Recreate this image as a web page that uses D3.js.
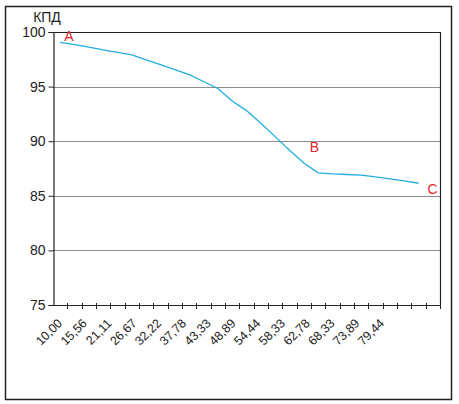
<!DOCTYPE html>
<html>
<head>
<meta charset="utf-8">
<script src="https://cdn.jsdelivr.net/npm/d3@7"></script>
<style>
  html, body { margin: 0; padding: 0; background: #fff; }
  svg { display: block; font-family: "Liberation Sans", Arial, sans-serif; }
</style>
</head>
<body>
<svg id="chart" width="459" height="404"></svg>
<script>
// ---- data ----
const categories = [10.00, 12.78, 15.56, 18.33, 21.11, 23.89, 26.67, 29.44, 32.22, 35.00,
  37.78, 40.56, 43.33, 46.11, 48.89, 51.67, 54.44, 57.22, 60.00, 62.78,
  65.56, 68.33, 71.11, 73.89, 76.67, 79.44, 82.22];
const efficiency = [99.05, 98.85, 98.61, 98.37, 98.14, 97.90, 97.45, 97.01, 96.56, 96.10,
  95.47, 94.83, 93.68, 92.80, 91.65, 90.42, 89.18, 88.00, 87.10, 87.00,
  86.95, 86.90, 86.74, 86.55, 86.36, 86.15];
const xTickLabels = ["10,00", "15,56", "21,11", "26,67", "32,22", "37,78", "43,33",
  "48,89", "54,44", "58,33", "62,78", "68,33", "73,89", "79,44"];
const yTicks = [75, 80, 85, 90, 95, 100];
const pointLabels = [
  { text: "A", index: 0, dx: 4, dy: -1 },
  { text: "B", index: 17, dx: 6, dy: -11 },
  { text: "C", index: 25, dx: 9, dy: 11 }
];
const yTitle = "КПД";

// ---- layout ----
const svg = d3.select("#chart");
const plot = { left: 53, top: 32, right: 440, bottom: 305 };

svg.append("rect")
  .attr("x", 5.5).attr("y", 6.5).attr("width", 446).attr("height", 393)
  .attr("fill", "none").attr("stroke", "#222").attr("stroke-width", 1.5);

const x = d3.scaleBand()
  .domain(categories.map((d, i) => i))
  .range([plot.left, plot.right])
  .padding(0);

const y = d3.scaleLinear().domain([75, 100]).range([plot.bottom, plot.top]);

const xLab = d3.scalePoint()
  .domain(xTickLabels)
  .range([plot.left + 10, plot.left + 332]);

// gridlines
svg.append("g").selectAll("line")
  .data(yTicks.filter(t => t > 75 && t < 100))
  .join("line")
  .attr("x1", plot.left).attr("x2", plot.right)
  .attr("y1", d => Math.round(y(d)) + 0.5).attr("y2", d => Math.round(y(d)) + 0.5)
  .attr("stroke", "#8c8c8c").attr("stroke-width", 1);

// plot frame top/right
svg.append("path")
  .attr("d", `M${plot.left},${plot.top + 0.5}H${plot.right + 0.5}V${plot.bottom}`)
  .attr("fill", "none").attr("stroke", "#222").attr("stroke-width", 1.2);

// y axis
const yAxis = svg.append("g")
  .attr("transform", `translate(${plot.left + 0.5},0)`)
  .call(d3.axisLeft(y).tickValues(yTicks).tickSize(5).tickPadding(3)
    .tickFormat(d3.format("d")));
yAxis.select(".domain").attr("stroke", "#222").attr("stroke-width", 1.2);
yAxis.selectAll(".tick line").attr("stroke", "#222");
yAxis.selectAll(".tick text")
  .attr("font-size", 14).attr("fill", "#222")
  .attr("font-family", "Liberation Sans, Arial, sans-serif");

// x axis (category boundaries)
const bounds = d3.range(categories.length + 1);
const xb = d3.scaleLinear().domain([0, categories.length]).range([plot.left, plot.right]);
svg.append("line")
  .attr("x1", plot.left).attr("x2", plot.right + 0.5)
  .attr("y1", plot.bottom + 0.5).attr("y2", plot.bottom + 0.5)
  .attr("stroke", "#222").attr("stroke-width", 1.2);
svg.append("g").selectAll("line")
  .data(bounds.slice(1))
  .join("line")
  .attr("x1", d => Math.round(xb(d)) + 0.5).attr("x2", d => Math.round(xb(d)) + 0.5)
  .attr("y1", plot.bottom - 2).attr("y2", plot.bottom + 4)
  .attr("stroke", "#222").attr("stroke-width", 1);

// x tick labels
svg.append("g").selectAll("text")
  .data(xTickLabels)
  .join("text")
  .attr("transform", d => `translate(${xLab(d)},${plot.bottom + 19}) rotate(-45)`)
  .attr("text-anchor", "end")
  .attr("font-size", 12.5)
  .attr("fill", "#222")
  .text(d => d);

// y title
svg.append("text")
  .attr("x", 47).attr("y", 22)
  .attr("text-anchor", "middle")
  .attr("font-size", 14).attr("fill", "#222")
  .text(yTitle);

// line
const line = d3.line()
  .x((d, i) => x(i) + x.bandwidth() / 2)
  .y(d => y(d));
svg.append("path")
  .datum(efficiency)
  .attr("d", line)
  .attr("fill", "none")
  .attr("stroke", "#22ade0")
  .attr("stroke-width", 1.3);

// point labels
svg.append("g").selectAll("text")
  .data(pointLabels)
  .join("text")
  .attr("x", d => x(d.index) + x.bandwidth() / 2 + d.dx)
  .attr("y", d => y(efficiency[d.index]) + d.dy)
  .attr("font-size", 14)
  .attr("fill", "#e0242c")
  .text(d => d.text);
</script>
</body>
</html>
